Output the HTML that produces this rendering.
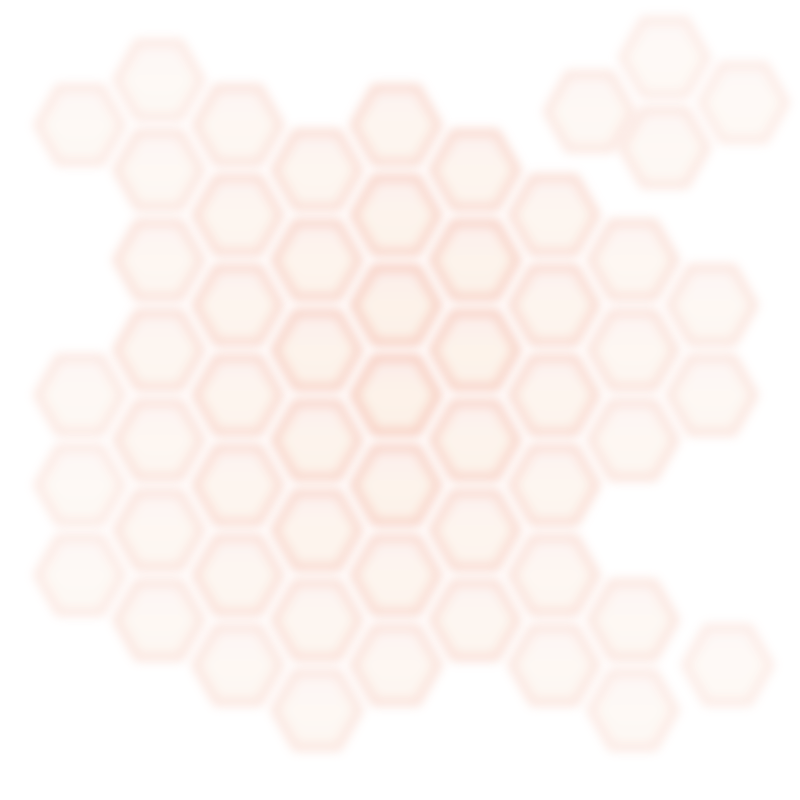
<!DOCTYPE html>
<html><head><meta charset="utf-8"><style>
html,body{margin:0;padding:0;background:#fff;}
svg{display:block;}
</style></head><body>
<svg id="chart" width="800" height="800" viewBox="0 0 800 800">
<defs>
<filter id="blur" x="-25%" y="-25%" width="150%" height="150%"><feGaussianBlur stdDeviation="5"/></filter>
<linearGradient id="fillg" x1="0" y1="0" x2="0" y2="1">
<stop offset="0" stop-color="#fbe8e6"/><stop offset="0.5" stop-color="#fdf0e4"/><stop offset="1" stop-color="#fcede2"/>
</linearGradient>
</defs>
<g id="cells"></g>
</svg>
<script>
const xs = [0,0,0,0, 1,1,1,1,1,1,1, 2,2,2,2,2,2,2, 3,3,3,3,3,3,3, 4,4,4,4,4,4,4, 5,5,5,5,5,5, 6,6,6,6,6,6, 7,7,7,7,7, 8,8, 6.45,7.4,7.4,8.4, 8.2];
const ys = [2,8,10,12, 1,3,5,7,9,11,13, 2,4,6,8,10,12,14, 3,5,7,9,11,13,15, 2,4,6,8,10,12,14, 3,5,7,9,11,13, 4,6,8,10,12,14, 5,7,9,13,15, 6,8, 1.7,0.5,2.5,1.5, 14];
const vals = [0.1,0.15,0.1,0.1, 0.1,0.2,0.3,0.35,0.3,0.25,0.2, 0.25,0.4,0.5,0.5,0.45,0.35,0.2, 0.4,0.6,0.7,0.65,0.55,0.35,0.2, 0.45,0.65,0.8,0.85,0.7,0.5,0.3, 0.5,0.7,0.75,0.65,0.5,0.35, 0.4,0.5,0.5,0.4,0.3,0.2, 0.3,0.3,0.25,0.2,0.1, 0.2,0.2, 0.15,0.05,0.15,0.05, 0.05];
function sx(v){return 80+79*v;}
function sy(v){return 35+45*v;}
const g=document.getElementById('cells');
const NS='http://www.w3.org/2000/svg';
const R=42, H=37;
for(let i=0;i<xs.length;i++){
  const cx=sx(xs[i]), cy=sy(ys[i]);
  const pts=[[cx-R,cy],[cx-R/2,cy-H],[cx+R/2,cy-H],[cx+R,cy],[cx+R/2,cy+H],[cx-R/2,cy+H]].map(p=>p.join(',')).join(' ');
  const p=document.createElementNS(NS,'polygon');
  
  
  p.setAttribute('points',pts);
  p.setAttribute('fill','url(#fillg)');
  p.setAttribute('stroke','#f6c4b4');
  p.setAttribute('stroke-width','9');
  p.setAttribute('stroke-linejoin','round');
  p.setAttribute('filter','url(#blur)');
  p.setAttribute('opacity',(0.3+0.6*vals[i]).toFixed(2));
  g.appendChild(p);
}
</script>
</body></html>
